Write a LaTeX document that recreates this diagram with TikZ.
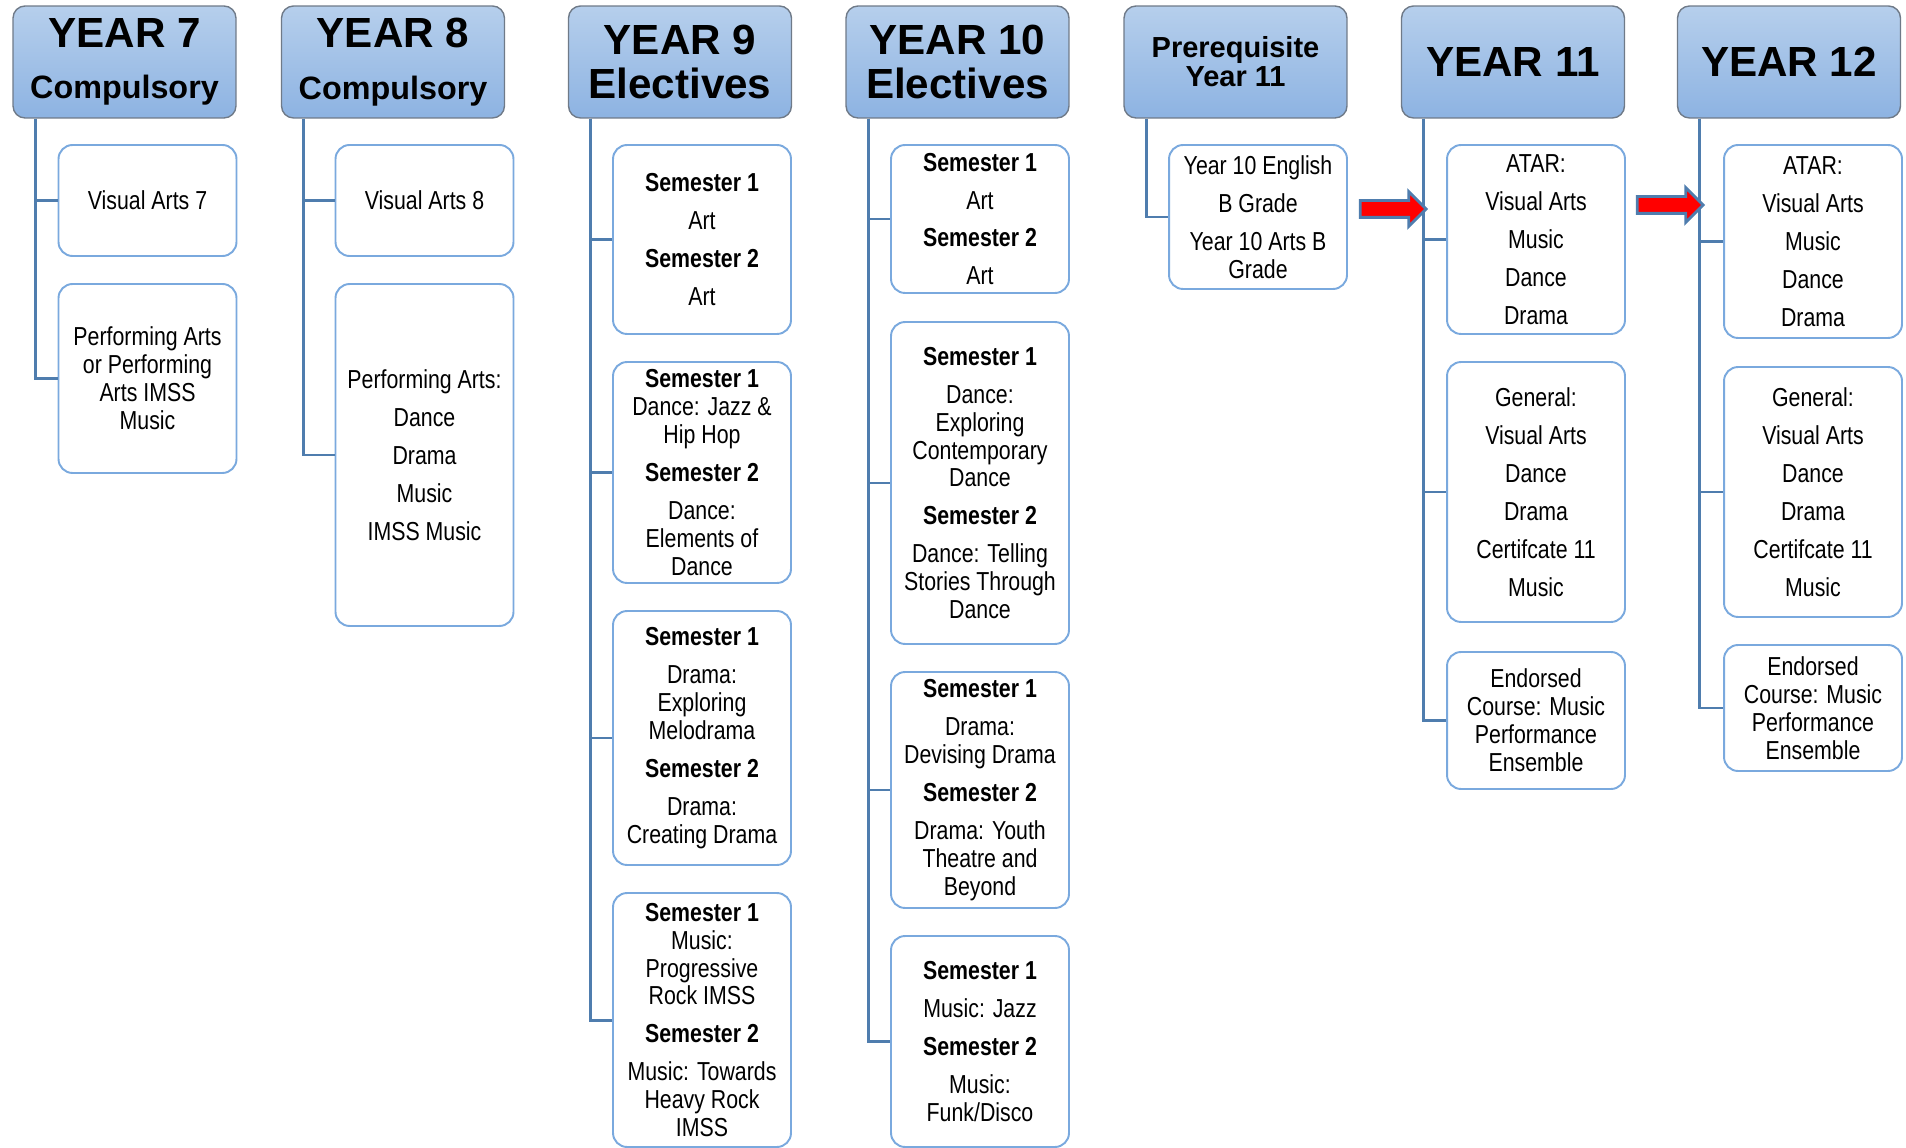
\documentclass[tikz,border=0pt]{standalone}
\usepackage{fontspec}
\setmainfont{Liberation Sans}
\newfontfamily\narrow[FakeStretch=0.82]{Liberation Sans}
\usepackage{xcolor}
\usepackage{tikz}
\usetikzlibrary{shapes,shapes.arrows}
\usetikzlibrary{positioning}
\definecolor{hdrtop}{HTML}{B6CFEC}
\definecolor{hdrbot}{HTML}{8DB3E2}
\definecolor{hdrline}{HTML}{6F7A88}
\definecolor{itemline}{HTML}{7AA9DE}
\definecolor{treeblue}{HTML}{4F7DAE}
\tikzstyle{year}=[draw=hdrline,line width=0.8pt,rounded corners=0.24cm,top color=hdrtop,bottom color=hdrbot,
minimum width=4.46cm,minimum height=2.24cm,align=center,inner sep=0,font=\bfseries\fontsize{24}{25}\selectfont]
\tikzstyle{item}=[draw=itemline,line width=1.1pt,rounded corners=0.28cm,fill=white,minimum width=3.56cm,
align=center,inner sep=0,font=\narrow\fontsize{14.8}{15.9}\selectfont]
\tikzstyle{tree}=[draw=treeblue,line width=1.7pt]
\tikzstyle{push}=[single arrow,draw=treeblue,fill=red,line width=1.6pt,minimum height=1.32cm,
inner xsep=0,inner ysep=0.14cm,single arrow head extend=0.18cm]

\begin{document}
\begin{tikzpicture}[x=0.02cm,y=-0.02cm]
\useasboundingbox (0,0) rectangle (1906,1148);
\def\sk{0.2cm}

	\node[year] (Y7) at (124.5,62) {YEAR 7\\[4.2pt]{\fontsize{18.4}{18.4}\selectfont Compulsory}};
	\node[year] (Y8) at (393,62) {YEAR 8\\[4.2pt]{\fontsize{18.4}{18.4}\selectfont Compulsory}};
	\node[year] (Y9) at (680,62) {YEAR 9\\Electives};
	\node[year] (Y10) at (957.5,62) {YEAR 10\\Electives};
	\node[year,font=\bfseries\fontsize{16.5}{16.5}\selectfont] (PRE) at (1235.5,62) {Prerequisite\\Year 11};
	\node[year] (Y11) at (1513,62) {YEAR 11};
	\node[year] (Y12) at (1789,62) {YEAR 12};

% % % Year 7 and 8
	\node[item,minimum height=2.22cm] (va7) at (147.5,200.5) {Visual Arts 7};
	\node[item,minimum height=3.78cm] (pa7) at (147.5,378.5) {Performing Arts\\or Performing\\Arts IMSS\\Music};
	\node[item,minimum height=2.22cm] (va8) at (424.5,200.5) {Visual Arts 8};
	\node[item,minimum height=6.84cm] (pa8) at (424.5,455) {Performing Arts:\\[\sk]Dance\\[\sk]Drama\\[\sk]Music\\[\sk]IMSS Music};

	\path[tree] ([xshift=0.46cm]Y7.south west) |- (va7.west);
	\path[tree] ([xshift=0.46cm]Y7.south west) |- (pa7.west);
	\path[tree] ([xshift=0.46cm]Y8.south west) |- (va8.west);
	\path[tree] ([xshift=0.46cm]Y8.south west) |- (pa8.west);

% % % Year 9
	\node[item,minimum height=3.78cm] (art9) at (702,239.5) {\textbf{Semester 1}\\[\sk]Art\\[\sk]\textbf{Semester 2}\\[\sk]Art};
	\node[item,minimum height=4.42cm] (dan9) at (702,472.5) {\textbf{Semester 1}\\Dance: Jazz \&\\Hip Hop\\[\sk]\textbf{Semester 2}\\[\sk]Dance:\\Elements of\\Dance};
	\node[item,minimum height=5.08cm] (dra9) at (702,738) {\textbf{Semester 1}\\[\sk]Drama:\\Exploring\\Melodrama\\[\sk]\textbf{Semester 2}\\[\sk]Drama:\\Creating Drama};
	\node[item,minimum height=5.08cm] (mus9) at (702,1020) {\textbf{Semester 1}\\Music:\\Progressive\\Rock IMSS\\[\sk]\textbf{Semester 2}\\[\sk]Music: Towards\\Heavy Rock\\IMSS};

	\path[tree] ([xshift=0.46cm]Y9.south west) |- (art9.west);
	\path[tree] ([xshift=0.46cm]Y9.south west) |- (dan9.west);
	\path[tree] ([xshift=0.46cm]Y9.south west) |- (dra9.west);
	\path[tree] ([xshift=0.46cm]Y9.south west) |- (mus9.west);

% % % Year 10
	\node[item,minimum height=2.96cm] (art10) at (980,219) {\textbf{Semester 1}\\[\sk]Art\\[\sk]\textbf{Semester 2}\\[\sk]Art};
	\node[item,minimum height=6.44cm] (dan10) at (980,483) {\textbf{Semester 1}\\[\sk]Dance:\\Exploring\\Contemporary\\Dance\\[\sk]\textbf{Semester 2}\\[\sk]Dance: Telling\\Stories Through\\Dance};
	\node[item,minimum height=4.72cm] (dra10) at (980,790) {\textbf{Semester 1}\\[\sk]Drama:\\Devising Drama\\[\sk]\textbf{Semester 2}\\[\sk]Drama: Youth\\Theatre and\\Beyond};
	\node[item,minimum height=4.22cm] (mus10) at (980,1041.5) {\textbf{Semester 1}\\[\sk]Music: Jazz\\[\sk]\textbf{Semester 2}\\[\sk]Music:\\Funk/Disco};

	\path[tree] ([xshift=0.46cm]Y10.south west) |- (art10.west);
	\path[tree] ([xshift=0.46cm]Y10.south west) |- (dan10.west);
	\path[tree] ([xshift=0.46cm]Y10.south west) |- (dra10.west);
	\path[tree] ([xshift=0.46cm]Y10.south west) |- (mus10.west);

% % % Prerequisite
	\node[item,minimum height=2.88cm] (pre) at (1258,217) {Year 10 English\\[\sk]B Grade\\[\sk]Year 10 Arts B\\Grade};
	\path[tree] ([xshift=0.46cm]PRE.south west) |- (pre.west);

% % % Year 11 and 12
	\node[item,minimum height=3.78cm] (atar11) at (1536,239.5) {ATAR:\\[\sk]Visual Arts\\[\sk]Music\\[\sk]Dance\\[\sk]Drama};
	\node[item,minimum height=5.2cm] (gen11) at (1536,492) {General:\\[\sk]Visual Arts\\[\sk]Dance\\[\sk]Drama\\[\sk]Certifcate 11\\[\sk]Music};
	\node[item,minimum height=2.74cm] (end11) at (1536,720.5) {Endorsed\\Course: Music\\Performance\\Ensemble};
	\node[item,minimum height=3.86cm] (atar12) at (1813,241.5) {ATAR:\\[\sk]Visual Arts\\[\sk]Music\\[\sk]Dance\\[\sk]Drama};
	\node[item,minimum height=5cm] (gen12) at (1813,492) {General:\\[\sk]Visual Arts\\[\sk]Dance\\[\sk]Drama\\[\sk]Certifcate 11\\[\sk]Music};
	\node[item,minimum height=2.52cm] (end12) at (1813,708) {Endorsed\\Course: Music\\Performance\\Ensemble};

	\path[tree] ([xshift=0.46cm]Y11.south west) |- (atar11.west);
	\path[tree] ([xshift=0.46cm]Y11.south west) |- (gen11.west);
	\path[tree] ([xshift=0.46cm]Y11.south west) |- (end11.west);
	\path[tree] ([xshift=0.46cm]Y12.south west) |- (atar12.west);
	\path[tree] ([xshift=0.46cm]Y12.south west) |- (gen12.west);
	\path[tree] ([xshift=0.46cm]Y12.south west) |- (end12.west);

	\node[push] (go11) at (1389,209) {};
	\node[push] (go12) at (1666,205) {};
\end{tikzpicture}
\end{document}
